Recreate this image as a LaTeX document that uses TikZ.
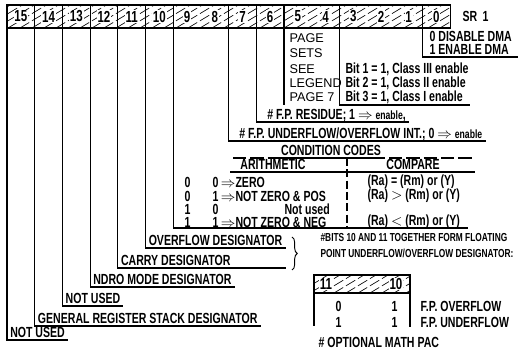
\documentclass[tikz,border=0pt]{standalone}
\usepackage{fontspec}
\setmainfont{Liberation Sans}[FakeStretch=0.72]
\newfontfamily\widefont{Liberation Sans}
\usetikzlibrary{decorations.pathreplacing}

\tikzset{
  lbl/.style={anchor=south west, inner xsep=2pt, inner ysep=1.5pt, text depth=0pt,
    font=\bfseries\fontsize{11}{12}\selectfont},
  txt/.style={anchor=west, inner sep=0pt, font=\bfseries\fontsize{11}{12}\selectfont},
  small/.style={anchor=west, inner sep=0pt, font=\bfseries\fontsize{8.7}{10}\selectfont},
  wide/.style={anchor=west, inner sep=0pt, font=\widefont\fontsize{9.5}{11}\selectfont},
  bitno/.style={fill=white, inner sep=0.6pt, font=\bfseries\fontsize{12}{12}\selectfont},
  hatch/.style={line width=0.5pt, dash pattern=on 8pt off 2.5pt},
}

\begin{document}
\begin{tikzpicture}[x=0.75pt, y=-0.75pt, line width=0.9pt]
  \useasboundingbox (0,0) rectangle (526,349);

  % register SR 1
  \begin{scope}
    \clip (7,5) rectangle (450.2,28);
    \foreach \x in {-40,-28,...,450}
      \draw[hatch] (\x,28) -- ++(40,-24);
  \end{scope}
  \draw (7,5) rectangle (450.2,28);
  \foreach \x in {34.7,62.4,90.1,117.8,145.5,173.2,228.6,256.3,284,339.4,422.5}
    \draw (\x,5) -- (\x,28);
  \foreach \b/\x in {15/20.9,14/48.6,13/76.3,12/104,11/131.7,10/159.4,9/187.1,8/214.8,
      7/242.5,6/270.2,5/297.9,4/325.6,3/353.3,2/381,1/408.7,0/436.4}
    \node[bitno] (n\b) at (\x,16.5) {\b};
  \node[txt] (sr) at (462,16.5) {SR\, 1};

  \coordinate (d15) at (7,28);
  \coordinate (d14) at (34.7,28);
  \coordinate (d13) at (62.4,28);
  \coordinate (d12) at (90.1,28);
  \coordinate (d11) at (117.8,28);
  \coordinate (d10) at (145.5,28);
  \coordinate (d9) at (173.2,28);
  \coordinate (d7) at (228.6,28);
  \coordinate (d6) at (256.3,28);
  \coordinate (d5) at (284,28);
  \coordinate (d3) at (339.4,28);
  \coordinate (d0) at (422.5,28);

  % bit 0
  \node[txt] (dma0) at (429,36) {0 DISABLE DMA};
  \node[txt] (dma1) at (429,49.5) {1 ENABLE DMA};
  \coordinate (dmaend) at (518,57);
  \draw (d0) |- (dmaend);

  % bits 5-4 and 3-1
  \node[wide] (pg1) at (289,38) {PAGE};
  \node[wide] (pg2) at (289,53) {SETS};
  \node[wide] (pg3) at (289,69) {SEE};
  \node[wide] (pg4) at (289,83) {LEGEND};
  \node[wide] (pg5) at (289,97) {PAGE 7};
  \node[txt] (cl1) at (345,69) {Bit 1 = 1, Class III enable};
  \node[txt] (cl2) at (345,83) {Bit 2 = 1, Class II enable};
  \node[txt] (cl3) at (345,97) {Bit 3 = 1, Class I enable};
  \coordinate (clend) at (470,105);
  \draw (d5) -- (d5 |- clend);
  \draw (d3) |- (clend);

  % bit 6 and bit 7
  \node[lbl] (res) at (264,122) {\# F.P. RESIDUE; 1 $\Rightarrow$ {\fontsize{9}{10}\selectfont enable},};
  \draw (d6) |- (res.south east);
  \node[lbl] (ufl) at (236,141) {\# F.P. UNDERFLOW/OVERFLOW INT.; 0 $\Rightarrow$ {\fontsize{9}{10}\selectfont enable}};
  \draw (d7) |- (ufl.south east);

  % bits 9-8: condition codes
  \node[lbl, anchor=south] (cc) at (331,158) {CONDITION CODES};
  \draw[dash pattern=on 10pt off 3pt] (233,158) -- (475,158);
  \draw (cc.south west) -- (cc.south east);
  \node[lbl, anchor=south] (ar) at (273,172) {ARITHMETIC};
  \node[lbl, anchor=south] (cp) at (413,172) {COMPARE};
  \draw (230,172) -- (475,172);
  \draw[dash pattern=on 6pt off 2.5pt] (347,158) -- (347,228);
  \node[txt] (a1) at (184,182) {0};
  \node[txt] (a2) at (184,196) {0};
  \node[txt] (a3) at (184,209) {1};
  \node[txt] (a4) at (184,222) {1};
  \node[txt] (b1) at (212,182) {0$\,\Rightarrow$ZERO};
  \node[txt] (b2) at (212,196) {1$\,\Rightarrow$NOT ZERO \& POS};
  \node[txt] (b3) at (212,209) {0};
  \node[txt] (b3n) at (284,209) {Not used};
  \node[txt] (b4) at (212,222) {1$\,\Rightarrow$NOT ZERO \& NEG};
  \node[txt] (c1) at (367,182) {(Ra) = (Rm) or (Y)};
  \node[txt] (c2) at (367,196) {(Ra) $>$ (Rm) or (Y)};
  \node[txt] (c4) at (367,222) {(Ra) $<$ (Rm) or (Y)};
  \coordinate (ccend) at (468,228);
  \draw (d9) |- (ccend);

  % bits 10 and 11
  \node[lbl] (ovf) at (145.5,248) {OVERFLOW DESIGNATOR};
  \coordinate (ovfend) at (286,248);
  \draw (d10) |- (ovfend);
  \node[lbl] (cry) at (117.8,268) {CARRY DESIGNATOR};
  \coordinate (cryend) at (286,268);
  \draw (d11) |- (cryend);
  \draw[decorate, decoration={brace, amplitude=4pt}, line width=0.7pt] (292,237) -- (292,270);
  \node[small] (fp1) at (320,238) {\#BITS 10 AND 11 TOGETHER FORM FLOATING};
  \node[small] (fp2) at (320,253) {POINT UNDERFLOW/OVERFLOW DESIGNATOR:};

  % bits 12 to 15
  \node[lbl] (ndro) at (90.1,287) {NDRO MODE DESIGNATOR};
  \draw (d12) |- (ndro.south east);
  \node[lbl] (nu13) at (62.4,306) {NOT USED};
  \draw (d13) |- (nu13.south east);
  \node[lbl] (grs) at (34.7,326) {GENERAL REGISTER STACK DESIGNATOR};
  \draw (d14) |- (grs.south east);
  \node[lbl] (nu15) at (7,340) {NOT USED};
  \draw (d15) |- (nu15.south east);

  % optional math pac
  \begin{scope}
    \clip (314,275) rectangle (410,293);
    \foreach \x in {274,286,...,410}
      \draw[hatch] (\x,293) -- ++(40,-24);
  \end{scope}
  \draw (314,275) rectangle (410,293);
  \node[bitno] (m11) at (326,284) {11};
  \node[bitno] (m10) at (396,284) {10};
  \draw (314,293) -- (314,326);
  \draw (410,293) -- (410,327);
  \node[txt] (o1) at (335,306) {0};
  \node[txt] (o2) at (391,306) {1};
  \node[txt] (u1) at (335,322) {1};
  \node[txt] (u2) at (391,322) {1};
  \node[txt] (ofl) at (420,306) {F.P. OVERFLOW};
  \node[txt] (ufw) at (420,322) {F.P. UNDERFLOW};
  \node[txt] (mpac) at (318,342) {\# OPTIONAL MATH PAC};
\end{tikzpicture}
\end{document}
